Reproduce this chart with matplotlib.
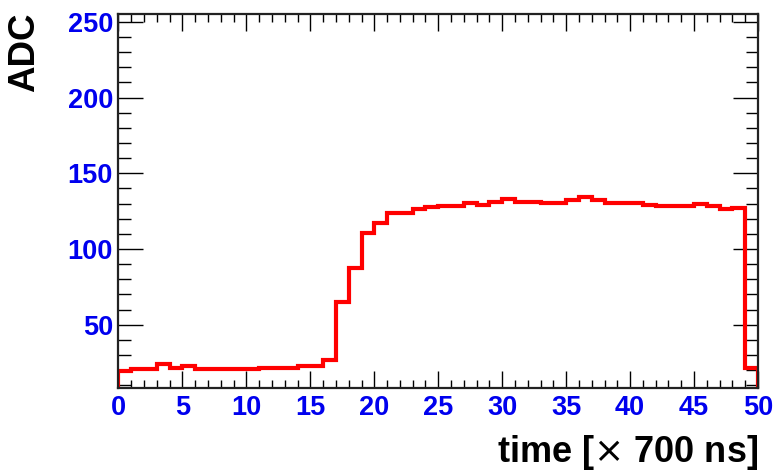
import matplotlib
matplotlib.use("Agg")
import matplotlib.pyplot as plt
import numpy as np
from matplotlib.ticker import MultipleLocator

bin_edges = np.arange(0, 51, 1)
adc_values = [19.6, 20.7, 20.7, 23.8, 21.2, 22.5, 20.7, 20.7, 20.7, 20.7,
              20.7, 21.6, 21.6, 21.6, 22.7, 22.7, 26.7, 65.0, 87.3, 110.4,
              117.4, 123.6, 123.6, 126.2, 127.5, 128.6, 128.6, 130.4, 129.3, 131.2,
              133.0, 131.0, 131.0, 130.4, 130.4, 132.4, 134.1, 132.2, 130.2, 130.2,
              130.2, 129.3, 128.4, 128.4, 128.4, 129.5, 128.4, 126.2, 126.9, 21.2]
x_ticks = [0, 5, 10, 15, 20, 25, 30, 35, 40, 45, 50]
y_ticks = [50, 100, 150, 200, 250]
y_min, y_max = 8.2, 255.5

plt.rcParams['font.family'] = ['Liberation Sans', 'DejaVu Sans']
plt.rcParams['mathtext.fontset'] = 'dejavusans'

fig = plt.figure(figsize=(7.75, 4.71), dpi=100)
ax = fig.add_axes([118.5/775, 1-388/471, (758-118.5)/775, (388-13.5)/471])

ax.stairs(adc_values, bin_edges, baseline=y_min, color='#ff0000', linewidth=3.0, zorder=2)

ax.set_xlim(0, 50)
ax.set_ylim(y_min, y_max)
ax.set_xticks(x_ticks)
ax.set_yticks(y_ticks)
ax.xaxis.set_minor_locator(MultipleLocator(1))
ax.yaxis.set_minor_locator(MultipleLocator(10))

ax.tick_params(which='both', direction='in', top=True, right=True, color='black', width=1.0)
ax.tick_params(axis='x', which='major', length=12)
ax.tick_params(axis='x', which='minor', length=6)
ax.tick_params(axis='y', which='major', length=18)
ax.tick_params(axis='y', which='minor', length=9)
ax.tick_params(axis='both', which='major', labelsize=19.5, labelcolor='#0000ee')
ax.tick_params(axis='x', which='major', pad=5)
ax.tick_params(axis='y', which='major', pad=4)
for lab in ax.get_xticklabels() + ax.get_yticklabels():
    lab.set_fontweight('bold')

for sp in ax.spines.values():
    sp.set_linewidth(1.6)
    sp.set_color('#222222')
    sp.set_zorder(3)

fig.text(758/775, 1-462/471, r'time [$\times$ 700 ns]', ha='right', va='baseline',
         fontsize=26, fontweight='bold', color='black')
fig.text(25/775, 1-13/471, 'ADC', ha='center', va='top', rotation=90,
         fontsize=26.5, fontweight='bold', color='black')

fig.savefig('out.png', dpi=100, facecolor='white')
